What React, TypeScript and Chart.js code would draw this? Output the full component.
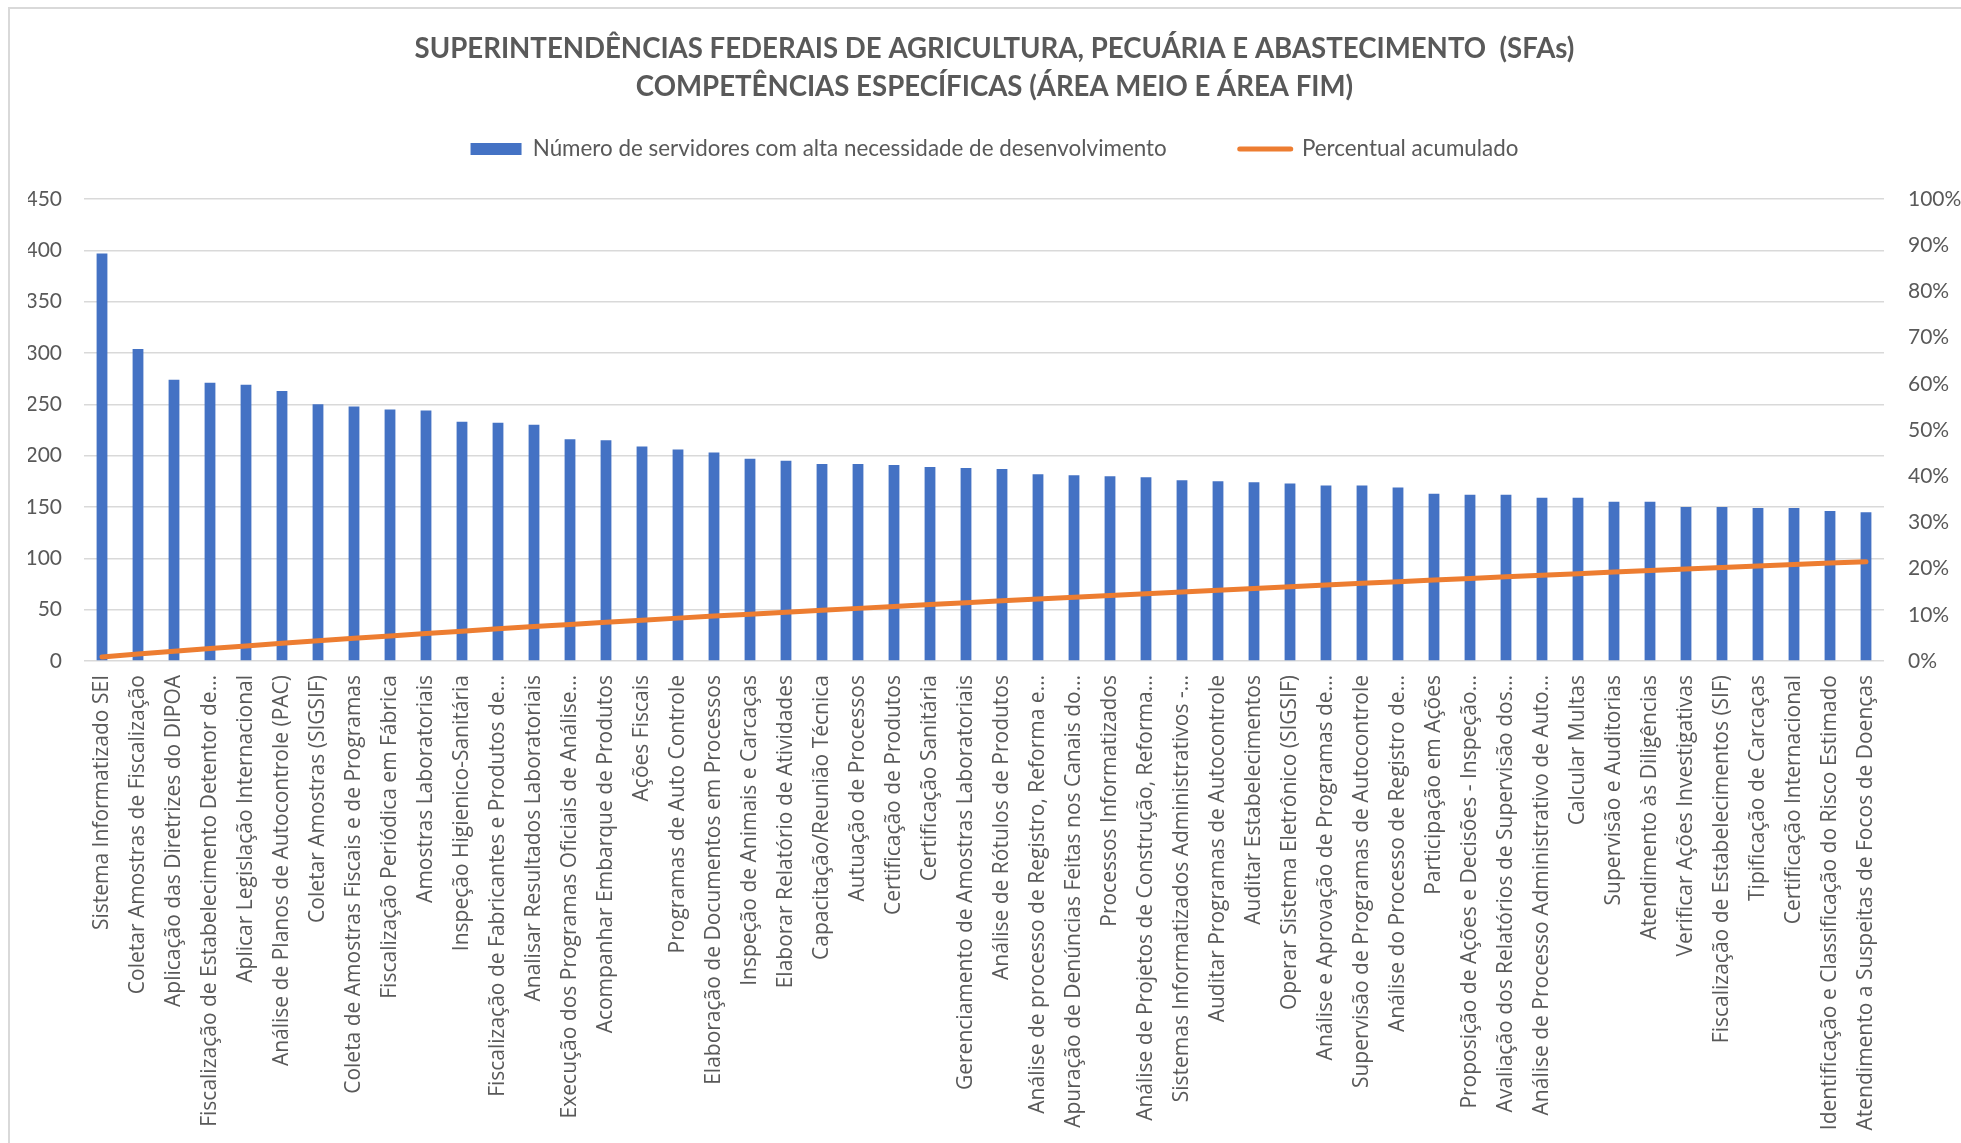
import React, { useEffect, useRef } from "react";
import { Chart, registerables } from "chart.js";

Chart.register(...registerables);

const titleLines = [
  "SUPERINTENDÊNCIAS FEDERAIS DE AGRICULTURA, PECUÁRIA E ABASTECIMENTO  (SFAs)",
  "COMPETÊNCIAS ESPECÍFICAS (ÁREA MEIO E ÁREA FIM)",
];

const barLabel = "Número de servidores com alta necessidade de desenvolvimento";
const lineLabel = "Percentual acumulado";

const categories = [
  "Sistema Informatizado SEI",
  "Coletar Amostras de Fiscalização",
  "Aplicação das Diretrizes do DIPOA",
  "Fiscalização de Estabelecimento Detentor de…",
  "Aplicar Legislação Internacional",
  "Análise de Planos de Autocontrole (PAC)",
  "Coletar Amostras (SIGSIF)",
  "Coleta de Amostras Fiscais e de Programas",
  "Fiscalização Periódica em Fábrica",
  "Amostras Laboratoriais",
  "Inspeção Higienico-Sanitária",
  "Fiscalização de Fabricantes e Produtos de…",
  "Analisar Resultados Laboratoriais",
  "Execução dos Programas Oficiais de Análise…",
  "Acompanhar Embarque de Produtos",
  "Ações Fiscais",
  "Programas de Auto Controle",
  "Elaboração de Documentos em Processos",
  "Inspeção de Animais e Carcaças",
  "Elaborar Relatório de Atividades",
  "Capacitação/Reunião Técnica",
  "Autuação de Processos",
  "Certificação de Produtos",
  "Certificação Sanitária",
  "Gerenciamento de Amostras Laboratoriais",
  "Análise de Rótulos de Produtos",
  "Análise de processo de Registro, Reforma e…",
  "Apuração de Denúncias Feitas nos Canais do…",
  "Processos Informatizados",
  "Análise de Projetos de Construção, Reforma…",
  "Sistemas Informatizados Administrativos -…",
  "Auditar Programas de Autocontrole",
  "Auditar Estabelecimentos",
  "Operar Sistema Eletrônico (SIGSIF)",
  "Análise e Aprovação de Programas de…",
  "Supervisão de Programas de Autocontrole",
  "Análise do Processo de Registro de…",
  "Participação em Ações",
  "Proposição de Ações e Decisões - Inspeção…",
  "Avaliação dos Relatórios de Supervisão dos…",
  "Análise de Processo Administrativo de Auto…",
  "Calcular Multas",
  "Supervisão e Auditorias",
  "Atendimento às Diligências",
  "Verificar Ações Investigativas",
  "Fiscalização de Estabelecimentos (SIF)",
  "Tipificação de Carcaças",
  "Certificação Internacional",
  "Identificação e Classificação do Risco Estimado",
  "Atendimento a Suspeitas de Focos de Doenças",
];

const servidores = [
  397, 304, 274, 271, 269, 263, 250, 248, 245, 244,
  233, 232, 230, 216, 215, 209, 206, 203, 197, 195,
  192, 192, 191, 189, 188, 187, 182, 181, 180, 179,
  176, 175, 174, 173, 171, 171, 169, 163, 162, 162,
  159, 159, 155, 155, 150, 150, 149, 149, 146, 145,
];

const percentualAcumulado = [
  0.86, 1.51, 2.1, 2.69, 3.27, 3.83, 4.37, 4.91, 5.43, 5.96,
  6.46, 6.96, 7.46, 7.92, 8.39, 8.84, 9.28, 9.72, 10.14, 10.56,
  10.98, 11.39, 11.8, 12.21, 12.61, 13.02, 13.41, 13.8, 14.19, 14.57,
  14.95, 15.33, 15.7, 16.08, 16.45, 16.81, 17.18, 17.53, 17.88, 18.23,
  18.57, 18.91, 19.25, 19.58, 19.91, 20.23, 20.55, 20.87, 21.19, 21.5,
];

const leftAxis = { min: 0, max: 450, step: 50 };
const rightAxis = { min: 0, max: 100, step: 10 };

const W = 1961;
const H = 1143;
const GRAY = "#595959";
const GRID = "#d9d9d9";
const BLUE = "#4472C4";
const ORANGE = "#ED7D31";

export default function App() {
  const ref = useRef<HTMLCanvasElement | null>(null);

  useEffect(() => {
    if (!ref.current) return;
    const chart = new Chart(ref.current, {
      type: "bar",
      data: {
        labels: categories,
        datasets: [
          {
            type: "bar",
            label: barLabel,
            data: servidores,
            backgroundColor: BLUE,
            borderWidth: 0,
            yAxisID: "y",
            xAxisID: "x",
            order: 1,
            barPercentage: 0.3,
            categoryPercentage: 1,
          } as any,
          {
            type: "line",
            label: lineLabel,
            data: percentualAcumulado,
            borderColor: ORANGE,
            backgroundColor: ORANGE,
            borderWidth: 5,
            borderCapStyle: "round",
            pointRadius: 0,
            tension: 0,
            yAxisID: "y1",
            xAxisID: "x",
            order: 0,
          } as any,
        ],
      },
      options: {
        animation: false,
        responsive: false,
        maintainAspectRatio: false,
        layout: { padding: { left: 28, right: 0, top: 0, bottom: 0 } },
        plugins: {
          tooltip: { enabled: false },
          title: {
            display: true,
            text: titleLines,
            color: GRAY,
            font: { family: "Lato", size: 27.6, weight: "bold", lineHeight: 38 / 27.6 },
            padding: { top: 30, bottom: -41.2 },
          },
          legend: {
            display: true,
            position: "top",
            labels: {
              usePointStyle: true,
              pointStyleWidth: 51,
              boxHeight: 12,
              padding: 73,
              color: GRAY,
              font: { family: "Lato", size: 22.4 },
              sort: (a: any, b: any) => a.datasetIndex - b.datasetIndex,
              generateLabels: (c: any) => {
                const items = (Chart.defaults.plugins.legend.labels as any).generateLabels(c);
                return items.map((it: any) =>
                  it.datasetIndex === 0
                    ? { ...it, pointStyle: "rect", lineWidth: 0, fillStyle: BLUE, strokeStyle: BLUE }
                    : { ...it, pointStyle: "line", lineWidth: 5, lineCap: "round", fillStyle: ORANGE, strokeStyle: ORANGE }
                );
              },
            },
          },
        },
        scales: {
          x: {
            type: "category",
            position: "bottom",
            grid: { display: false, drawTicks: false },
            border: { display: false },
            ticks: {
              autoSkip: false,
              minRotation: 90,
              maxRotation: 90,
              padding: 14,
              color: GRAY,
              font: { family: "'Open Sans'", size: 21 },
            },
            afterFit: (s: any) => {
              s.height = 482;
            },
          },
          xTop: {
            type: "category",
            position: "top",
            display: true,
            grid: { display: false, drawTicks: false },
            border: { display: false },
            ticks: { display: false },
            afterFit: (s: any) => {
              s.height = 28.8;
            },
          },
          y: {
            position: "left",
            min: leftAxis.min,
            max: leftAxis.max,
            ticks: {
              stepSize: leftAxis.step,
              padding: 22,
              color: GRAY,
              font: { family: "Lato", size: 21 },
            },
            grid: { color: GRID, lineWidth: 1.5, drawTicks: false },
            border: { display: false },
            afterFit: (s: any) => {
              s.width = 56;
            },
          },
          y1: {
            position: "right",
            min: rightAxis.min,
            max: rightAxis.max,
            ticks: {
              stepSize: rightAxis.step,
              padding: 24,
              color: GRAY,
              font: { family: "Lato", size: 21 },
              callback: (v: any) => `${Math.round(Number(v))}%`,
            },
            grid: { display: false, drawTicks: false },
            border: { display: false },
            afterFit: (s: any) => {
              s.width = 77;
            },
          },
        },
      } as any,
    });
    return () => chart.destroy();
  }, []);

  return (
    <div style={{ position: "fixed", left: 0, top: 0, width: W, height: H, background: "#fff", overflow: "hidden" }}>
      <canvas ref={ref} width={W} height={H} style={{ width: W, height: H, display: "block" }} />
      <div
        style={{
          position: "absolute",
          left: 8,
          top: 7,
          width: W + 20,
          height: H + 20,
          border: `2px solid ${GRID}`,
          boxSizing: "border-box",
          pointerEvents: "none",
        }}
      />
    </div>
  );
}
